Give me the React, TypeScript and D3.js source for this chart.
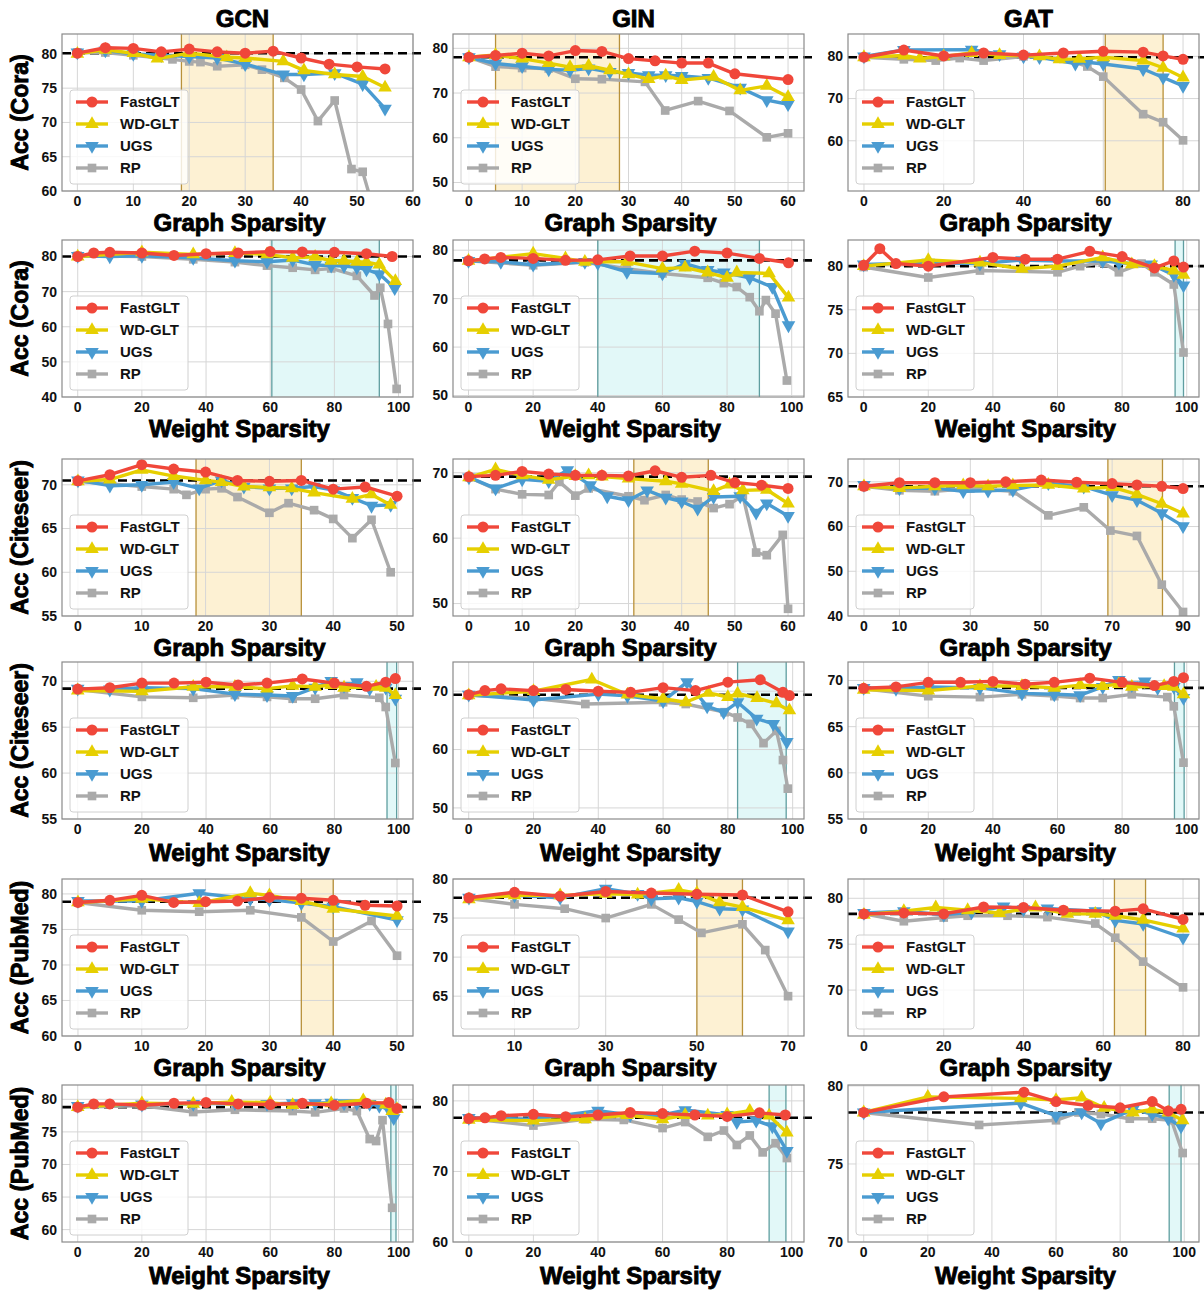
import React from "react";
import * as d3 from "d3";

type Pt = [number, number];

const methods = ["FastGLT", "WD-GLT", "UGS", "RP"];
const colors = ["#f0473a", "#e6cf00", "#4a9bd1", "#aaaaaa"];
const models = ["GCN", "GIN", "GAT"];
const yLabels = ["Acc (Cora)", "Acc (Cora)", "Acc (Citeseer)", "Acc (Citeseer)", "Acc (PubMed)", "Acc (PubMed)"];
const xLabels = ["Graph Sparsity", "Weight Sparsity"];

// each panel: [FastGLT, WD-GLT, UGS, RP]
const gcnCoraG: Pt[][] = [
  [[0, 80.1], [5, 80.9], [10, 80.8], [15, 80.3], [20, 80.7], [25, 80.3], [30, 80.1], [35, 80.4], [40, 79.4], [45, 78.5], [50, 78.1], [55, 77.8]],
  [[0, 80.0], [5, 80.6], [10, 80.1], [14.3, 79.3], [20, 80.1], [26.7, 79.5], [30, 79.4], [36.8, 78.9], [40.5, 77.6], [46, 77.0], [51, 76.7], [55, 75.1]],
  [[0, 80.2], [5, 80.5], [10, 80.0], [15, 79.8], [20, 79.6], [25, 79.4], [30, 78.5], [36.8, 77.0], [40.5, 77.0], [46, 77.2], [51, 75.6], [55, 72.0]],
  [[0, 80.2], [5, 80.2], [10, 79.8], [17, 79.2], [20, 78.9], [22, 78.8], [25, 78.2], [30, 78.4], [33, 77.7], [37, 76.5], [40, 74.8], [43, 70.2], [46, 73.2], [49, 63.2], [51, 62.8], [57, 46]],
];
const ginCoraG: Pt[][] = [
  [[0, 78], [5, 78.4], [10, 78.9], [15, 78.3], [20, 79.5], [25, 79.3], [30, 77.7], [35, 77.2], [40, 76.7], [45, 76.7], [50, 74.3], [60, 73.0]],
  [[0, 78], [5, 78.5], [10, 77.7], [15, 76.7], [19, 75.8], [22.5, 76.1], [26.5, 75.1], [30, 74.2], [33.8, 73.1], [37, 73.9], [40, 72.9], [46, 73.6], [51, 70.6], [56, 71.6], [60, 69.1]],
  [[0, 78], [5, 76.6], [10, 76.0], [15, 75.3], [19, 75.1], [22.5, 75.5], [26.5, 74.7], [30, 74.5], [33.8, 74.0], [37, 74.0], [40, 73.8], [45, 73.4], [51, 71.2], [56, 68.4], [60, 67.5]],
  [[0, 78], [5, 75.9], [10, 75.6], [15, 75.5], [20, 73.2], [25, 73.1], [33.1, 72.5], [36.9, 66.1], [43.1, 68.2], [49, 66.0], [56, 60.1], [60, 61.0]],
];
const gatCoraG: Pt[][] = [
  [[0, 79.8], [10, 81.5], [20, 80.1], [30, 80.8], [40, 80.3], [50, 80.8], [60, 81.2], [70, 81.0], [75, 80.1], [80, 79.3]],
  [[0, 79.8], [10, 80.2], [14, 79.5], [20, 80.0], [27, 80.8], [34, 80.3], [44, 80.0], [49, 79.3], [54, 79.4], [60, 79.8], [70, 79.0], [75, 77.3], [80, 75.0]],
  [[0, 80.0], [10, 81.5], [27, 81.6], [34, 80.5], [40, 80.0], [44, 79.8], [53, 78.3], [56, 78.6], [60, 78.2], [70, 77.0], [75, 75.0], [80, 73.0]],
  [[0, 79.8], [10, 79.3], [18, 79.0], [24, 79.6], [30, 79.0], [40, 80.0], [50, 79.4], [56, 77.6], [60, 75.2], [70, 66.3], [75, 64.4], [80, 60.1]],
];
const gcnCoraW: Pt[][] = [
  [[0, 80], [5, 81.0], [10, 81.2], [20, 81.0], [30, 80.3], [40, 80.8], [50, 81.0], [60, 81.4], [70, 81.3], [80, 81.2], [90, 80.8], [98, 80.0]],
  [[0, 80.0], [20, 81.2], [36, 80.6], [49, 81.0], [59, 80.6], [67, 79.6], [74, 79.9], [79, 78.8], [83, 78.8], [87, 78.5], [90, 78.4], [94, 77.7], [99, 73.0]],
  [[0, 80.2], [10, 80.0], [20, 80.2], [36, 79.6], [49, 78.8], [59, 78.5], [67, 79.0], [74, 77.6], [79, 77.4], [83, 77.3], [87, 76.9], [90, 76.3], [94, 75.0], [98.8, 71.0]],
  [[0, 80.2], [20, 80.0], [36, 79.2], [49, 78.4], [59, 77.4], [67, 76.8], [74, 76.2], [79, 76.6], [87, 74.5], [92.5, 68.9], [94.3, 71.1], [96.7, 60.8], [99.4, 42.3]],
];
const ginCoraW: Pt[][] = [
  [[0, 77.8], [5, 78.2], [10, 78.5], [20, 78.3], [30, 77.9], [40, 78.0], [50, 78.8], [60, 78.8], [70, 79.8], [80, 79.4], [90, 78.3], [99, 77.4]],
  [[0, 77.8], [20, 79.3], [30, 78.3], [36, 77.6], [49, 77.6], [60, 76.2], [67, 76.4], [74, 75.4], [80, 74.3], [83, 75.4], [93, 75.2], [99, 70.2]],
  [[0, 77.8], [10, 77.6], [20, 77.0], [36, 77.6], [40, 77.3], [49, 75.5], [60, 75.2], [67, 77.2], [74, 75.9], [79, 75.4], [87, 74.3], [94, 72.4], [99, 64.5]],
  [[0, 77.8], [20, 76.9], [36, 77.5], [49, 76.2], [60, 75.2], [74, 74.3], [79, 73.2], [83, 72.4], [87, 70.3], [90, 67.4], [92, 69.7], [95, 66.9], [98.5, 53.1]],
];
const gatCoraW: Pt[][] = [
  [[0, 80.1], [5, 82.0], [10, 80.3], [20, 80.0], [40, 81.0], [50, 80.8], [60, 80.8], [70, 81.7], [80, 81.1], [90, 79.8], [96, 80.6], [99, 79.9]],
  [[0, 80.0], [20, 80.7], [36, 80.4], [49, 79.7], [60, 80.0], [74, 81.0], [83, 80.2], [90, 80.0], [96, 79.5], [99, 79.0]],
  [[0, 80.2], [20, 80.4], [36, 80.3], [49, 80.7], [60, 80.6], [74, 80.6], [79, 80.4], [89, 80.2], [96, 79.0], [99, 77.8]],
  [[0, 79.9], [20, 78.7], [36, 79.5], [60, 79.3], [67, 80.0], [74, 80.4], [79, 79.3], [86, 80.3], [90, 79.3], [96, 77.9], [99, 70.1]],
];
const gcnCiteG: Pt[][] = [
  [[0, 70.45], [5, 71.15], [10, 72.3], [15, 71.8], [20, 71.45], [25, 70.5], [30, 70.4], [35, 70.5], [40, 69.5], [45, 69.75], [50, 68.7]],
  [[0, 70.4], [5, 70.6], [10, 71.7], [15, 71.0], [20, 70.5], [22.5, 70.3], [26, 69.8], [30, 69.7], [33.5, 69.6], [37, 69.1], [43, 68.4], [46, 68.9], [49, 67.7]],
  [[0, 70.5], [5, 69.9], [10, 70.0], [15, 70.3], [19, 69.6], [22.5, 70.5], [26, 69.8], [30, 69.6], [33.5, 69.6], [37, 69.8], [40, 69.4], [43, 68.5], [46, 67.6], [49, 67.7]],
  [[0, 70.4], [10, 69.8], [15, 69.5], [17, 68.85], [20, 69.5], [22.5, 69.6], [25, 68.6], [30, 66.8], [33, 67.9], [37, 67.1], [40, 66.1], [43, 63.9], [46, 66.0], [49, 60.0]],
];
const ginCiteG: Pt[][] = [
  [[0, 69.4], [5, 69.6], [10, 70.2], [15, 69.8], [20, 69.6], [25, 69.6], [30, 69.5], [35, 70.3], [40, 69.3], [45.5, 69.6], [50, 68.5], [55, 68.1], [60, 67.6]],
  [[0, 69.3], [5, 70.5], [10, 69.6], [15, 68.9], [20, 69.5], [22.5, 69.6], [25, 69.4], [30, 69.1], [37, 68.7], [40, 68.3], [46, 67.2], [49, 68.2], [51.5, 67.3], [56, 67.4], [60, 65.3]],
  [[0, 69.3], [5, 67.6], [10, 69.0], [15, 68.7], [18.5, 70.4], [22.8, 68.1], [26, 66.4], [30, 65.8], [33.5, 67.3], [37, 66.2], [40, 65.6], [43, 64.5], [46, 66.3], [51, 66.4], [54, 63.9], [56, 65.3], [60, 63.4]],
  [[0, 69.3], [5, 67.5], [10, 66.7], [15, 66.6], [17, 68.6], [20, 66.5], [22.5, 67.6], [30, 66.4], [33, 65.8], [37, 66.6], [40, 65.9], [43, 65.6], [46, 64.6], [49, 65.2], [51.5, 66.5], [54, 57.8], [56, 57.4], [59, 60.5], [60, 49.2]],
];
const gatCiteG: Pt[][] = [
  [[0, 69.0], [10, 69.8], [20, 69.8], [30, 69.8], [40, 70.0], [50, 70.4], [60, 69.9], [70, 69.6], [77, 69.3], [84, 69.0], [90, 68.5]],
  [[0, 69.0], [10, 68.6], [20, 69.0], [28, 69.2], [35, 69.0], [42, 69.2], [52, 69.3], [62, 68.5], [70, 68.8], [77, 67.2], [84, 65.1], [90, 62.9]],
  [[0, 69.3], [10, 68.5], [20, 68.6], [28, 67.9], [35, 68.0], [42, 68.2], [52, 69.7], [62, 68.9], [70, 67.0], [77, 65.9], [84, 63.0], [90, 60.1]],
  [[0, 69.0], [10, 68.1], [20, 67.9], [30, 68.5], [42, 67.9], [52, 62.5], [62, 64.3], [69.5, 59.1], [77, 57.9], [84, 47.0], [90, 40.9]],
];
const gcnCiteW: Pt[][] = [
  [[0, 69.15], [10, 69.3], [20, 69.8], [30, 69.8], [40, 69.9], [50, 69.6], [59, 69.8], [70, 70.25], [80, 69.8], [90, 69.45], [96, 69.9], [99, 70.3]],
  [[0, 69.0], [20, 68.9], [36, 69.4], [49, 69.4], [59, 69.2], [67, 69.5], [74, 69.4], [79, 69.6], [83, 69.3], [93, 69.4], [96, 69.3], [99, 68.5]],
  [[0, 69.2], [10, 69.1], [20, 69.3], [36, 69.2], [49, 68.6], [59, 68.5], [67, 68.4], [74, 69.3], [79, 70.05], [83, 69.5], [87, 69.9], [91, 69.2], [96, 69.3], [99, 68.1]],
  [[0, 69.1], [20, 68.3], [36, 68.2], [49, 68.5], [59, 68.3], [67, 68.1], [74, 68.1], [83, 68.5], [94, 68.2], [96, 67.2], [99, 61.1]],
];
const ginCiteW: Pt[][] = [
  [[0, 69.4], [5, 70.1], [10, 70.4], [20, 70.1], [30, 70.3], [40, 70.0], [50, 69.8], [60, 70.6], [70, 70.1], [80, 71.55], [90, 71.95], [97, 69.8], [99, 69.25]],
  [[0, 69.3], [20, 70.0], [38, 72.0], [49, 69.4], [60, 68.7], [67, 68.1], [74, 69.7], [80, 69.0], [83, 69.6], [89, 68.8], [95, 67.9], [99, 66.7]],
  [[0, 69.4], [20, 68.5], [40, 69.5], [49, 69.2], [60, 68.3], [67.4, 71.55], [73.6, 67.4], [78.7, 66.4], [83, 68.1], [88.9, 65.3], [94, 64.4], [98.2, 61.3]],
  [[0, 69.3], [20, 68.8], [36, 67.8], [60, 68.1], [67, 67.8], [79, 66.4], [83, 65.5], [87, 64.4], [91, 61.1], [95, 63.2], [97, 58.2], [98.5, 53.3]],
];
const gatCiteW: Pt[][] = gcnCiteW;
const gcnPubG: Pt[][] = [
  [[0, 78.8], [5, 79.1], [10, 79.8], [15, 78.8], [20, 78.9], [25, 79.0], [30, 79.5], [35, 79.4], [40, 79.1], [45, 78.4], [50, 78.3]],
  [[0, 78.8], [10, 79.3], [19, 78.7], [27, 80.1], [30, 79.8], [35, 79.0], [40, 77.9], [50, 76.9]],
  [[0, 79.0], [10, 79.0], [19, 80.1], [27, 79.3], [30, 79.2], [35, 78.7], [40, 78.2], [50, 76.3]],
  [[0, 78.8], [10, 77.7], [19, 77.5], [27, 77.7], [35, 76.7], [40, 73.3], [46, 76.2], [50, 71.3]],
];
const ginPubG: Pt[][] = [
  [[0, 77.6], [10, 78.3], [20, 77.8], [30, 78.4], [40, 78.2], [50, 78.05], [60, 77.95], [70, 75.8]],
  [[0, 77.4], [10, 77.9], [20, 77.9], [30, 78.1], [37, 78.0], [46, 78.6], [50, 78.2], [55, 77.0], [60, 76.4], [70, 74.7]],
  [[0, 77.6], [10, 77.9], [20, 77.6], [30, 78.75], [37, 78.1], [40, 77.45], [46, 77.6], [50, 77.1], [55, 76.2], [60, 76.1], [70, 73.3]],
  [[0, 77.5], [10, 76.75], [21, 76.2], [30, 75.0], [40, 76.75], [46, 74.8], [51, 73.1], [60, 74.2], [65, 70.9], [70, 65.0]],
];
const gatPubG: Pt[][] = [
  [[0, 78.3], [10, 78.4], [20, 78.3], [30, 79.05], [40, 79.0], [50, 78.7], [63, 78.6], [70, 78.85], [80, 77.7]],
  [[0, 78.2], [10, 78.6], [18, 79.0], [26, 78.7], [34, 78.4], [43, 79.0], [51, 78.3], [58, 78.3], [63, 78.1], [70, 77.65], [80, 76.7]],
  [[0, 78.4], [10, 78.6], [20, 78.2], [27, 78.5], [35, 79.1], [40, 78.8], [46, 78.9], [58, 78.6], [63, 77.6], [70, 77.2], [80, 75.7]],
  [[0, 78.3], [10, 77.5], [20, 77.9], [26, 78.1], [36, 78.1], [46, 77.95], [58, 77.25], [63, 75.7], [70, 73.1], [80, 70.3]],
];
const gcnPubW: Pt[][] = [
  [[0, 78.8], [5, 79.3], [10, 79.3], [20, 79.1], [30, 79.4], [40, 79.5], [50, 79.3], [60, 79.2], [70, 79.4], [80, 79.1], [90, 79.4], [97, 79.5], [99.5, 78.6]],
  [[0, 78.8], [20, 79.4], [36, 79.3], [48, 79.6], [60, 79.5], [67, 79.1], [79, 79.4], [89, 79.85], [96, 79.2], [98, 78.2], [99.5, 78.5]],
  [[0, 79.0], [20, 79.2], [36, 79.3], [49, 79.4], [59, 79.3], [67, 79.4], [74, 79.4], [79, 79.5], [83, 79.4], [87, 79.4], [91, 79.3], [94, 79.0], [97, 78.4], [98.5, 77.1]],
  [[0, 78.8], [20, 79.0], [36, 78.05], [49, 78.4], [67, 78.2], [74, 78.0], [83, 78.6], [87, 78.2], [91, 73.9], [93, 73.6], [95, 76.8], [98, 63.35]],
];
const ginPubW: Pt[][] = [
  [[0, 77.5], [5, 77.6], [10, 77.9], [20, 78.1], [30, 77.75], [40, 78.0], [50, 78.35], [60, 78.2], [70, 78.0], [80, 77.8], [90, 78.3], [98, 78.0]],
  [[0, 77.3], [20, 77.2], [36, 77.4], [49, 78.0], [60, 77.4], [67, 78.0], [74, 77.9], [80, 78.1], [87, 78.6], [93, 77.9], [98.5, 75.5]],
  [[0, 77.6], [20, 77.4], [40, 78.6], [50, 78.0], [60, 78.0], [67, 78.7], [80, 78.0], [83, 77.0], [89, 77.2], [94, 76.4], [98.5, 72.9]],
  [[0, 77.5], [20, 76.5], [36, 77.4], [48, 77.3], [60, 76.15], [67, 77.0], [74, 74.9], [79, 75.8], [83, 73.75], [87, 75.1], [91, 72.7], [95, 74.0], [98.5, 71.9]],
];
const gatPubW: Pt[][] = [
  [[0, 78.3], [25, 79.3], [50, 79.6], [60, 79.0], [70, 78.75], [80, 78.6], [90, 79.0], [95, 78.4], [99, 78.5]],
  [[0, 78.3], [20, 79.3], [49, 79.2], [60, 79.1], [68, 79.25], [75, 78.6], [84, 78.3], [90, 78.5], [95, 78.3], [99.5, 77.8]],
  [[0, 78.3], [49, 78.9], [60, 78.1], [68, 78.3], [74, 77.6], [84, 78.5], [90, 78.2], [95, 77.9], [99, 77.4]],
  [[0, 78.3], [36, 77.5], [60, 77.8], [67, 78.3], [74, 78.2], [83, 77.9], [90, 77.9], [96, 77.8], [99.5, 75.7]],
];

// dense baseline accuracy (dashed line) and highlighted sparsity window per panel
const baselines = [80.1, 78.0, 79.8, 80.0, 77.9, 80.0, 70.5, 69.4, 69.0, 69.2, 69.4, 69.2, 78.9, 77.6, 78.3, 78.8, 77.6, 78.3];
const windows: Pt[] = [
  [18.6, 35], [5, 28.3], [60.5, 75],
  [60.5, 94], [40, 90], [96.4, 99],
  [18.5, 35], [31, 45], [68.8, 84.2],
  [96.4, 99.4], [83, 98], [96.2, 99.2],
  [35, 40], [50, 60], [62.8, 70.6],
  [97.6, 99.2], [93, 98.2], [95.3, 99],
];
const allSeries = [
  gcnCoraG, ginCoraG, gatCoraG,
  gcnCoraW, ginCoraW, gatCoraW,
  gcnCiteG, ginCiteG, gatCiteG,
  gcnCiteW, ginCiteW, gatCiteW,
  gcnPubG, ginPubG, gatPubG,
  gcnPubW, ginPubW, gatPubW,
];
const xDomains: Pt[] = [
  [-2.75, 60], [-3, 63], [-4, 84],
  [-4.9, 104.5], [-4.8, 103.8], [-4.85, 103.8],
  [-2.5, 52.5], [-3, 63], [-4.5, 94.5],
  [-4.9, 104.5], [-4.85, 103.5], [-4.85, 103.8],
  [-2.5, 52.5], [-3.5, 73.5], [-4, 84],
  [-4.9, 104.5], [-4.9, 103.8], [-4.9, 104.6],
];
const yDomains: Pt[] = [
  [60, 82.9], [48.1, 83.2], [48.1, 85.3],
  [40, 84.7], [49.7, 82.1], [65, 83],
  [55, 72.95], [48.1, 72.1], [40, 75.1],
  [55, 72.1], [48.1, 75.0], [55, 72],
  [60, 82.1], [59.9, 80], [65, 82.1],
  [58.1, 82.2], [60, 82.25], [70, 80.06],
];
const w100 = [0, 20, 40, 60, 80, 100];
const xTicks = [
  [0, 10, 20, 30, 40, 50, 60], [0, 10, 20, 30, 40, 50, 60], [0, 20, 40, 60, 80],
  w100, w100, w100,
  [0, 10, 20, 30, 40, 50], [0, 10, 20, 30, 40, 50, 60], [0, 10, 30, 50, 70, 90],
  w100, w100, w100,
  [0, 10, 20, 30, 40, 50], [10, 30, 50, 70], [0, 20, 40, 60, 80],
  w100, w100, w100,
];
const yTicks = [
  [60, 65, 70, 75, 80], [50, 60, 70, 80], [60, 70, 80],
  [40, 50, 60, 70, 80], [50, 60, 70, 80], [65, 70, 75, 80],
  [55, 60, 65, 70], [50, 60, 70], [40, 50, 60, 70],
  [55, 60, 65, 70], [50, 60, 70], [55, 60, 65, 70],
  [60, 65, 70, 75, 80], [65, 70, 75, 80], [70, 75, 80],
  [60, 65, 70, 75, 80], [60, 70, 80], [70, 75, 80],
];

const W = 1204;
const H = 1295;
const colX = [62, 453, 848];
const rowY = [34, 240, 459, 662, 879, 1085];
const xLabelOff = [40, 40, 40, 42, 40, 42];
const pw = 351;
const ph = 157;
const font = "'Liberation Sans', Arial, sans-serif";

const symbolTypes = [d3.symbolCircle, d3.symbolTriangle, d3.symbolTriangle, d3.symbolSquare];
const symbolSizes = [95, 80, 80, 75];

function Marker({ i, x, y }: { i: number; x: number; y: number }) {
  const d = d3.symbol().type(symbolTypes[i]).size(symbolSizes[i])() as string;
  const rot = i === 2 ? " rotate(180)" : "";
  return <path d={d} transform={`translate(${x},${y})${rot}`} fill={colors[i]} />;
}

function Panel({ k }: { k: number }) {
  const r = Math.floor(k / 3);
  const c = k % 3;
  const graph = r % 2 === 0;
  const x = d3.scaleLinear().domain(xDomains[k]).range([0, pw]);
  const y = d3.scaleLinear().domain(yDomains[k]).range([ph, 0]);
  const line = d3.line<Pt>().x((d) => x(d[0])).y((d) => y(d[1]));
  const win = windows[k];
  const fill = graph ? "#fdf1d3" : "#e2f8f8";
  const edge = graph ? "#b8913a" : "#5f9ea0";
  const series = allSeries[k];
  const order = [3, 2, 1, 0];

  return (
    <g transform={`translate(${colX[c]},${rowY[r]})`}>
      <clipPath id={`clip${k}`}>
        <rect width={pw} height={ph} />
      </clipPath>
      <rect width={pw} height={ph} fill="#fff" />
      <rect x={x(win[0])} width={x(win[1]) - x(win[0])} y={0} height={ph} fill={fill} />
      {xTicks[k].map((t) => (
        <line key={"gx" + t} x1={x(t)} x2={x(t)} y1={0} y2={ph} stroke="#d6d6d6" strokeWidth={1} />
      ))}
      {yTicks[k].map((t) => (
        <line key={"gy" + t} x1={0} x2={pw} y1={y(t)} y2={y(t)} stroke="#d6d6d6" strokeWidth={1} />
      ))}
      <line x1={x(win[0])} x2={x(win[0])} y1={0} y2={ph} stroke={edge} strokeWidth={1.3} />
      <line x1={x(win[1])} x2={x(win[1])} y1={0} y2={ph} stroke={edge} strokeWidth={1.3} />
      <line x1={0} x2={pw + 8} y1={y(baselines[k])} y2={y(baselines[k])} stroke="#000" strokeWidth={2.6} strokeDasharray="9 5" />
      <g clipPath={`url(#clip${k})`}>
        {order.map((i) => (
          <g key={i}>
            <path d={line(series[i]) as string} fill="none" stroke={colors[i]} strokeWidth={3.4} strokeLinejoin="round" />
            {series[i].map((d, j) => (
              <Marker key={j} i={i} x={x(d[0])} y={y(d[1])} />
            ))}
          </g>
        ))}
      </g>
      <rect width={pw} height={ph} fill="none" stroke="#8a8a8a" strokeWidth={1.2} />
      {xTicks[k].map((t) => (
        <text key={"tx" + t} x={x(t)} y={ph + 15} textAnchor="middle" fontFamily={font} fontWeight="bold" fontSize={14} fill="#111">
          {t}
        </text>
      ))}
      {yTicks[k].map((t) => (
        <text key={"ty" + t} x={-5} y={y(t)} dy="0.35em" textAnchor="end" fontFamily={font} fontWeight="bold" fontSize={14} fill="#111">
          {t}
        </text>
      ))}
      <text x={pw / 2 + 2} y={ph + xLabelOff[r]} textAnchor="middle" fontFamily={font} fontWeight="bold" fontSize={24} fill="#000" stroke="#000" strokeWidth={0.9}>
        {xLabels[r % 2]}
      </text>
      {r === 0 && (
        <text x={pw / 2 + 5} y={-7} textAnchor="middle" fontFamily={font} fontWeight="bold" fontSize={24} fill="#000" stroke="#000" strokeWidth={0.9}>
          {models[c]}
        </text>
      )}
      {c === 0 && (
        <text transform={`translate(${-34},${ph / 2}) rotate(-90)`} textAnchor="middle" fontFamily={font} fontWeight="bold" fontSize={23} fill="#000" stroke="#000" strokeWidth={0.9}>
          {yLabels[r]}
        </text>
      )}
      <g transform={`translate(8,${ph - 101})`}>
        <rect width={118} height={94} rx={3} fill="#fff" fillOpacity={0.82} stroke="#d0d0d0" strokeWidth={1} />
        {methods.map((m, i) => {
          const ly = 12 + i * 22;
          return (
            <g key={m}>
              <line x1={6} x2={38} y1={ly} y2={ly} stroke={colors[i]} strokeWidth={3.4} />
              <Marker i={i} x={22} y={ly} />
              <text x={50} y={ly} dy="0.36em" fontFamily={font} fontWeight="bold" fontSize={15} fill="#111">
                {m}
              </text>
            </g>
          );
        })}
      </g>
    </g>
  );
}

export default function App() {
  return (
    <svg width={W} height={H} style={{ position: "absolute", left: 0, top: 0, background: "#fff" }}>
      {allSeries.map((_, k) => (
        <Panel key={k} k={k} />
      ))}
    </svg>
  );
}
